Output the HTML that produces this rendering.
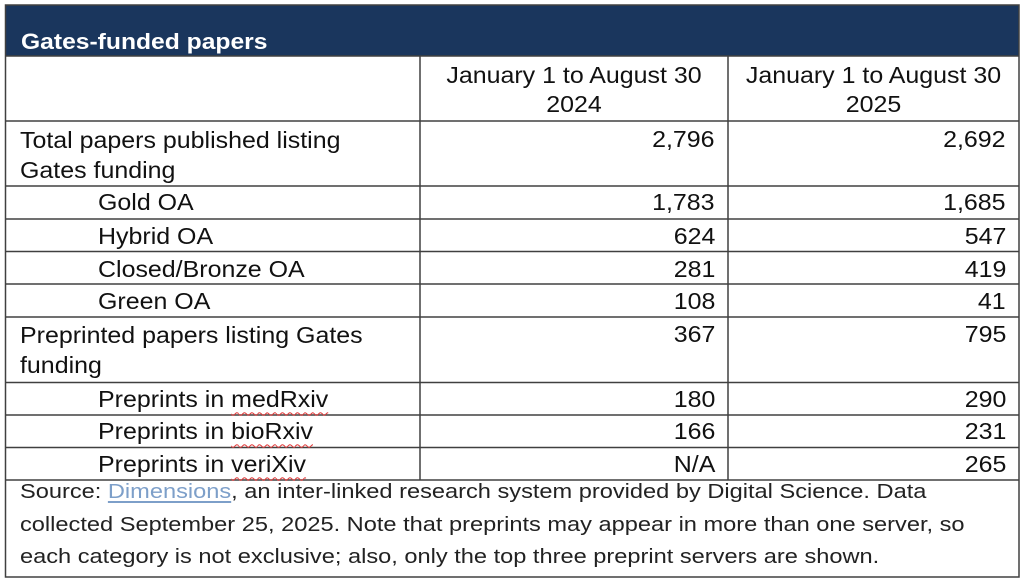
<!DOCTYPE html>
<html>
<head>
<meta charset="utf-8">
<style>
  html, body { margin:0; padding:0; background:#fff; }
  #c { position:relative; width:1024px; height:584px; overflow:hidden; background:#fff; }
  .hdr { position:absolute; left:5px; top:5px; width:1014px; height:51px; background:#1a365d; }
  .t { position:absolute; white-space:nowrap; font-family:"Liberation Sans", sans-serif; font-size:23px; line-height:30px; color:#111; transform:scaleX(1.085); transform-origin:left center; }
  .r { transform-origin:right center; text-align:right; }
  .c { transform-origin:center center; text-align:center; }
  .title { position:absolute; left:20.5px; top:26.7px; white-space:nowrap; font-family:"Liberation Sans", sans-serif; font-weight:bold; font-size:22px; line-height:30px; color:#fff; transform:scaleX(1.12); transform-origin:left center; }
  .f { position:absolute; left:20px; white-space:nowrap; font-family:"Liberation Sans", sans-serif; font-size:20px; line-height:30px; color:#222; transform:scaleX(1.18); transform-origin:left center; }
  .sq { text-decoration:underline wavy #e23b3b; text-decoration-thickness:1px; text-underline-offset:4px; }
  .lk { color:#7d9fc9; text-decoration:underline; text-decoration-color:#7d9fc9; text-underline-offset:3px; }
  svg { position:absolute; left:0; top:0; }
</style>
</head>
<body>
<div id="c">
  <div class="hdr"></div>
  <div class="title">Gates-funded papers</div>

  <svg width="1024" height="584" viewBox="0 0 1024 584">
    <g stroke="#404040" stroke-width="1.5" fill="none">
      <rect x="5.5" y="5" width="1013.5" height="572"/>
      <line x1="5.5" y1="56" x2="1019" y2="56"/>
      <line x1="5.5" y1="121" x2="1019" y2="121"/>
      <line x1="5.5" y1="186" x2="1019" y2="186"/>
      <line x1="5.5" y1="219" x2="1019" y2="219"/>
      <line x1="5.5" y1="251.5" x2="1019" y2="251.5"/>
      <line x1="5.5" y1="284" x2="1019" y2="284"/>
      <line x1="5.5" y1="317" x2="1019" y2="317"/>
      <line x1="5.5" y1="382.5" x2="1019" y2="382.5"/>
      <line x1="5.5" y1="415" x2="1019" y2="415"/>
      <line x1="5.5" y1="447.5" x2="1019" y2="447.5"/>
      <line x1="5.5" y1="480" x2="1019" y2="480"/>
      <line x1="420" y1="56" x2="420" y2="480"/>
      <line x1="728" y1="56" x2="728" y2="480"/>
    </g>
  </svg>

  <!-- column headers -->
  <div class="t c" style="left:420px;width:308px;top:60px;">January 1 to August 30</div>
  <div class="t c" style="left:420px;width:308px;top:89px;">2024</div>
  <div class="t c" style="left:728px;width:291px;top:60px;">January 1 to August 30</div>
  <div class="t c" style="left:728px;width:291px;top:89px;">2025</div>

  <!-- Total papers -->
  <div class="t" style="left:20px;top:125px;">Total papers published listing</div>
  <div class="t" style="left:20px;top:155px;">Gates funding</div>
  <div class="t r" style="right:309px;top:124px;">2,796</div>
  <div class="t r" style="right:18px;top:124px;">2,692</div>

  <div class="t" style="left:98px;top:186.5px;">Gold OA</div>
  <div class="t r" style="right:309px;top:186.5px;">1,783</div>
  <div class="t r" style="right:18px;top:186.5px;">1,685</div>

  <div class="t" style="left:98px;top:220.5px;">Hybrid OA</div>
  <div class="t r" style="right:309px;top:220.5px;">624</div>
  <div class="t r" style="right:18px;top:220.5px;">547</div>

  <div class="t" style="left:98px;top:253.5px;">Closed/Bronze OA</div>
  <div class="t r" style="right:309px;top:253.5px;">281</div>
  <div class="t r" style="right:18px;top:253.5px;">419</div>

  <div class="t" style="left:98px;top:285.7px;">Green OA</div>
  <div class="t r" style="right:309px;top:285.7px;">108</div>
  <div class="t r" style="right:18px;top:285.7px;">41</div>

  <!-- Preprinted -->
  <div class="t" style="left:20px;top:319.7px;">Preprinted papers listing Gates</div>
  <div class="t" style="left:20px;top:350.3px;">funding</div>
  <div class="t r" style="right:309px;top:318.7px;">367</div>
  <div class="t r" style="right:18px;top:318.7px;">795</div>

  <div class="t" style="left:98px;top:384.3px;">Preprints in <span class="sq">medRxiv</span></div>
  <div class="t r" style="right:309px;top:384.3px;">180</div>
  <div class="t r" style="right:18px;top:384.3px;">290</div>

  <div class="t" style="left:98px;top:416.3px;">Preprints in <span class="sq">bioRxiv</span></div>
  <div class="t r" style="right:309px;top:416.3px;">166</div>
  <div class="t r" style="right:18px;top:416.3px;">231</div>

  <div class="t" style="left:98px;top:449.3px;">Preprints in <span class="sq">veriXiv</span></div>
  <div class="t r" style="right:309px;top:449.3px;">N/A</div>
  <div class="t r" style="right:18px;top:449.3px;">265</div>

  <!-- footer -->
  <div class="f" style="top:477.3px;">Source: <span class="lk">Dimensions</span>, an inter-linked research system provided by Digital Science. Data</div>
  <div class="f" style="top:509.7px;">collected September 25, 2025. Note that preprints may appear in more than one server, so</div>
  <div class="f" style="top:542px;">each category is not exclusive; also, only the top three preprint servers are shown.</div>
</div>
</body>
</html>
